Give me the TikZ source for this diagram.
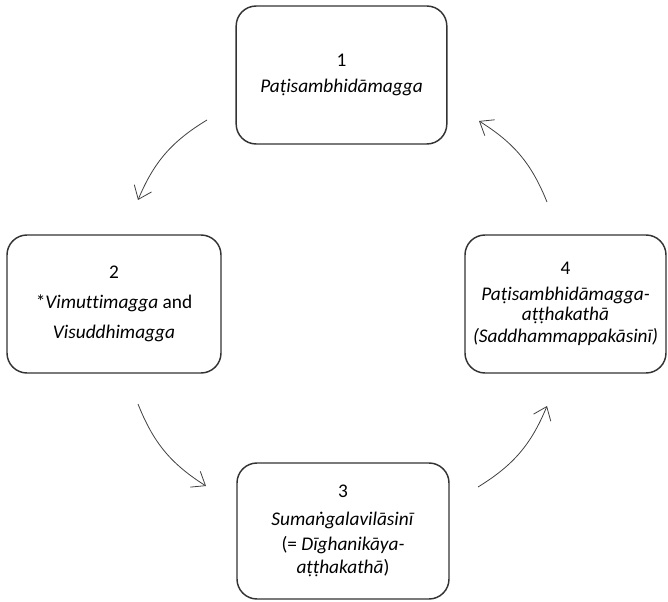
\documentclass[tikz,border=0pt]{standalone}
\usepackage{fontspec}
\setmainfont[Ligatures=NoCommon]{Carlito}
\usetikzlibrary{arrows.meta}
\begin{document}
\begin{tikzpicture}[x=0.75pt,y=-0.75pt,
		textbox/.style={draw=black!80, line width=1.1pt, rounded corners=15pt, align=center, font=\fontsize{14.5}{17}\selectfont},
		flow/.style={draw=black!75, line width=0.6pt, -{Straight Barb[length=9pt,width=14pt]}}]
			\useasboundingbox (0,0) rectangle (668,602);
			\node[textbox, minimum width=158pt, minimum height=103.5pt] (patis) at (341.5,75) {1\\[2.5pt] \textit{Paṭisambhidāmagga}};
			\node[textbox, minimum width=160.5pt, minimum height=103.5pt] (vimutti) at (114,304) {2\\[5.5pt] *\textit{Vimuttimagga} and\\[5.5pt] \textit{Visuddhimagga}};
			\node[textbox, minimum width=159pt, minimum height=102pt] (sumangala) at (343,531) {3\\[4pt] \textit{Sumaṅgalavilāsinī}\\[2pt] (= \textit{Dīghanikāya-}\\ \textit{aṭṭhakathā})};
			\node[textbox, minimum width=150.75pt, minimum height=103.5pt] (patisatt) at (565.5,304) {4\\[2.5pt] \textit{Paṭisambhidāmagga-}\\[-2pt] \textit{aṭṭhakathā}\\ \textit{(Saddhammappakāsinī)}};
			\coordinate (a1) at (207,120);
			\coordinate (b1) at (138,200);
			\coordinate (a2) at (138,404);
			\coordinate (b2) at (206,486);
			\coordinate (a3) at (478,487);
			\coordinate (b3) at (547,406);
			\coordinate (a4) at (547,202);
			\coordinate (b4) at (479,121);
			\draw[flow] (a1) to[bend right=18] (b1);
			\draw[flow] (a2) to[bend right=18] (b2);
			\draw[flow] (a3) to[bend right=18] (b3);
			\draw[flow] (a4) to[bend right=18] (b4);
		\end{tikzpicture}
\end{document}
